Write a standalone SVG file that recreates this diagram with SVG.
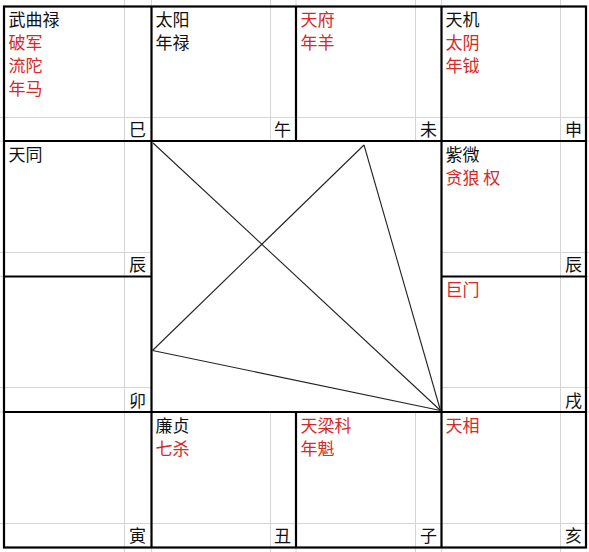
<svg xmlns="http://www.w3.org/2000/svg" width="589" height="552" viewBox="0 0 589 552">
<style>
.grid{stroke:#d4d4d4;stroke-width:1;fill:none}
.bd{stroke:#000;stroke-width:2.2;fill:none}
.t{font-family:"Noto Sans CJK SC","Noto Sans CJK TC",sans-serif;font-size:17px}
.k{fill:#111}
.r{fill:#d42a2a}
.br{font-family:"Noto Sans CJK SC",sans-serif;font-size:17px;fill:#111;text-anchor:end}
.ln{stroke:#222;stroke-width:1.1;fill:none}
</style>
<rect x="0" y="0" width="589" height="552" fill="#fff"/>
<g id="gridlines" class="grid">
<path d="M124.5 0V552M151.5 0V552M270.5 0V552M296 0V552M415.5 0V552M441.5 0V552M560.5 0V552"/>
<path d="M0 117.5H589M0 141H589M0 252.5H589M0 276.5H589M0 387.5H589M0 412H589M0 523.5H589"/>
</g>
<rect x="151.5" y="141" width="290" height="271" fill="#fff"/>
<g id="borders" class="bd">
<rect x="4" y="6.5" width="582" height="541"/>
<path d="M151.5 6.5V547.5M296 6.5V141M296 412V547.5M441.5 6.5V547.5"/>
<path d="M4 141H586M4 276.5H151.5M441.5 276.5H586M4 412H586"/>
</g>
<g id="cell-si">
<text class="t k" x="8.5" y="25.5">武曲禄</text>
<text class="t r" x="8.5" y="48.5">破军</text>
<text class="t r" x="8.5" y="71.5">流陀</text>
<text class="t r" x="8.5" y="94.5">年马</text>
<text class="br" x="146" y="135.5">巳</text>
</g>
<g id="cell-wu">
<text class="t k" x="155.5" y="25.5">太阳</text>
<text class="t k" x="155.5" y="48.5">年禄</text>
<text class="br" x="291" y="135.5">午</text>
</g>
<g id="cell-wei">
<text class="t r" x="300.5" y="25.5">天府</text>
<text class="t r" x="300.5" y="48.5">年羊</text>
<text class="br" x="437" y="135.5">未</text>
</g>
<g id="cell-shen">
<text class="t k" x="445.5" y="25.5">天机</text>
<text class="t r" x="445.5" y="48.5">太阴</text>
<text class="t r" x="445.5" y="71.5">年钺</text>
<text class="br" x="582" y="135.5">申</text>
</g>
<g id="cell-chen-left">
<text class="t k" x="8.5" y="160.5">天同</text>
<text class="br" x="146" y="271">辰</text>
</g>
<g id="cell-you">
<text class="t k" x="445.5" y="160.5">紫微</text>
<text class="t r" x="445.5" y="183.5">贪狼 权</text>
<text class="br" x="582" y="271">辰</text>
</g>
<g id="cell-mao">
<text class="br" x="146" y="406.5">卯</text>
</g>
<g id="cell-xu">
<text class="t r" x="445.5" y="296">巨门</text>
<text class="br" x="582" y="406.5">戌</text>
</g>
<g id="cell-yin">
<text class="br" x="146" y="542">寅</text>
</g>
<g id="cell-chou">
<text class="t k" x="155.5" y="431.5">廉贞</text>
<text class="t r" x="155.5" y="454.5">七杀</text>
<text class="br" x="291" y="542">丑</text>
</g>
<g id="cell-zi">
<text class="t r" x="300.5" y="431.5">天梁科</text>
<text class="t r" x="300.5" y="454.5">年魁</text>
<text class="br" x="437" y="542">子</text>
</g>
<g id="cell-hai">
<text class="t r" x="445.5" y="431.5">天相</text>
<text class="br" x="582" y="542">亥</text>
</g>
<g id="connectors" class="ln">
<line x1="153" y1="143" x2="440.5" y2="410.5"/>
<line x1="152.5" y1="350.5" x2="364" y2="145"/>
<line x1="364" y1="145" x2="440.5" y2="410.5"/>
<line x1="152.5" y1="350.5" x2="440.5" y2="410.5"/>
</g>
</svg>
